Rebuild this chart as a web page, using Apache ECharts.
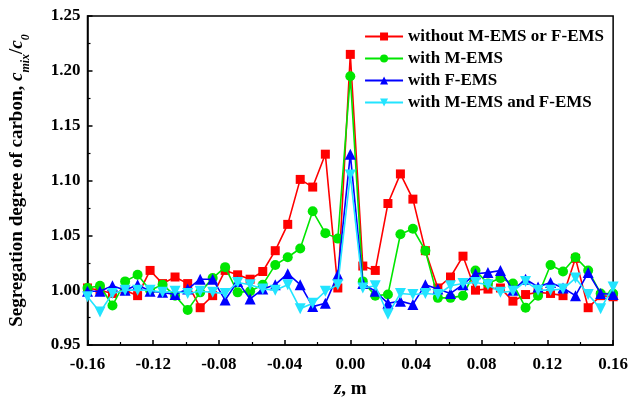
<!DOCTYPE html>
<html>
<head>
<meta charset="utf-8">
<script src="https://cdn.jsdelivr.net/npm/echarts@6/dist/echarts.min.js"></script>
<style>html,body{margin:0;padding:0;background:#fff}#c{width:631px;height:404px}</style>
</head>
<body>
<div id="c"></div>
<script>
var zValues = [-0.16,-0.1524,-0.1448,-0.1371,-0.1295,-0.1219,-0.1143,-0.1067,-0.0990,-0.0914,-0.0838,-0.0762,-0.0686,-0.0610,-0.0533,-0.0457,-0.0381,-0.0305,-0.0229,-0.0152,-0.0076,0,
  0.0076,0.0152,0.0229,0.0305,0.0381,0.0457,0.0533,0.0610,0.0686,0.0762,0.0838,0.0914,0.0990,0.1067,0.1143,0.1219,0.1295,0.1371,0.1448,0.1524,0.16];
var withoutEMS = [1.002,1.000,0.997,1.000,0.995,1.018,1.006,1.012,1.006,0.984,0.995,1.018,1.014,1.010,1.017,1.036,1.060,1.101,1.094,1.124,1.002,1.215,
  1.022,1.018,1.079,1.106,1.083,1.036,1.002,1.012,1.031,1.000,1.001,1.002,0.990,0.996,0.998,0.997,0.995,1.029,0.984,0.995,0.994];
var withM = [1.002,1.004,0.986,1.008,1.014,1.000,1.005,0.995,0.982,0.998,1.011,1.021,0.998,0.999,1.005,1.023,1.030,1.038,1.072,1.052,1.047,1.195,
  1.008,0.995,0.996,1.051,1.056,1.036,0.993,0.993,0.995,1.018,1.006,1.011,1.006,0.984,0.995,1.023,1.017,1.030,1.018,0.997,0.997];
var withF = [0.999,0.999,1.004,1.000,1.005,0.999,0.998,0.996,1.001,1.010,1.010,0.991,1.008,0.992,1.001,1.005,1.015,1.005,0.985,0.988,1.014,1.124,
  1.006,0.999,0.988,0.990,0.987,1.005,1.001,0.997,1.005,1.015,1.016,1.018,1.000,1.010,1.003,1.007,1.002,0.995,1.016,0.997,0.996];
var withMF = [0.994,0.980,0.997,1.000,1.000,1.000,0.998,0.999,0.997,0.999,0.998,0.997,1.007,1.005,1.001,1.000,1.005,0.983,0.988,0.999,1.005,1.105,
  1.002,1.004,0.978,0.997,0.996,0.997,0.996,1.004,1.006,1.007,1.005,0.998,0.999,1.008,1.000,1.000,1.001,1.011,0.996,0.983,1.003];
var seriesNames = ['without M-EMS or F-EMS','with M-EMS','with F-EMS','with M-EMS and F-EMS'];
var seriesColors = ['#ff0000','#00e600','#0000ff','#22e4ff'];
var seriesSymbols = ['rect','circle','triangle','path://M0,0 L10,0 L5,9 Z'];
var xTicks = {min:-0.16, max:0.16, step:0.04};
var yTicks = {min:0.95, max:1.25, step:0.05};

function pairs(vals){ return zValues.map(function(z,i){ return [z, vals[i]]; }); }
var allVals = [withoutEMS, withM, withF, withMF];
var font = 'Liberation Serif';

var series = allVals.map(function(v,k){
  return {
    name: seriesNames[k], type:'line', data: pairs(v),
    symbol: seriesSymbols[k], symbolSize: k===0?9:(k===1?10:11),
    lineStyle:{color:seriesColors[k], width:1.6},
    itemStyle:{color:seriesColors[k]},
    emphasis:{disabled:true}, animation:false, z: 2+k
  };
});

var chart = echarts.init(document.getElementById('c'), null, {renderer:'canvas'});
chart.setOption({
  backgroundColor:'#fff',
  animation:false,
  grid:{left:83, right:17, top:16, bottom:49, show:true, borderColor:'#000', borderWidth:1.5, backgroundColor:'transparent'},
  legend:{
    orient:'vertical', right:22, top:23, itemWidth:38, itemHeight:10, itemGap:5,
    data: seriesNames,
    textStyle:{fontFamily:font, fontWeight:'bold', fontSize:17, color:'#000'}
  },
  xAxis:{
    type:'value', min:xTicks.min, max:xTicks.max, interval:xTicks.step,
    name:'{i|z}, m', nameLocation:'middle', nameGap:35,
    nameTextStyle:{fontFamily:font, fontWeight:'bold', fontSize:19, color:'#000',
      rich:{i:{fontFamily:font, fontWeight:'bold', fontStyle:'italic', fontSize:19, color:'#000'}}},
    axisLine:{onZero:false, lineStyle:{color:'#000', width:1.5}},
    axisTick:{inside:true, length:5, lineStyle:{color:'#000', width:1.5}},
    minorTick:{show:true, splitNumber:2, length:3, lineStyle:{color:'#000', width:1.2}},
    splitLine:{show:false},
    axisLabel:{fontFamily:font, fontWeight:'bold', fontSize:17, color:'#000', margin:11,
      formatter:function(v){ return v.toFixed(2); }}
  },
  yAxis:{
    type:'value', min:yTicks.min, max:yTicks.max, interval:yTicks.step,
    name:'Segregation degree of carbon, {i|c}{s|mix}/{i|c}{s|0}', nameLocation:'middle', nameGap:56,
    nameTextStyle:{fontFamily:font, fontWeight:'bold', fontSize:19, color:'#000',
      rich:{
        i:{fontFamily:font, fontWeight:'bold', fontStyle:'italic', fontSize:19, color:'#000'},
        s:{fontFamily:font, fontWeight:'bold', fontStyle:'italic', fontSize:12, color:'#000', padding:[16,0,0,0]}
      }},
    axisLine:{onZero:false, lineStyle:{color:'#000', width:1.5}},
    axisTick:{inside:true, length:5, lineStyle:{color:'#000', width:1.5}},
    minorTick:{show:true, splitNumber:2, length:3, lineStyle:{color:'#000', width:1.2}},
    splitLine:{show:false},
    axisLabel:{fontFamily:font, fontWeight:'bold', fontSize:17, color:'#000', margin:7,
      formatter:function(v){ return v.toFixed(2); }}
  },
  series: series
});
</script>
</body>
</html>
